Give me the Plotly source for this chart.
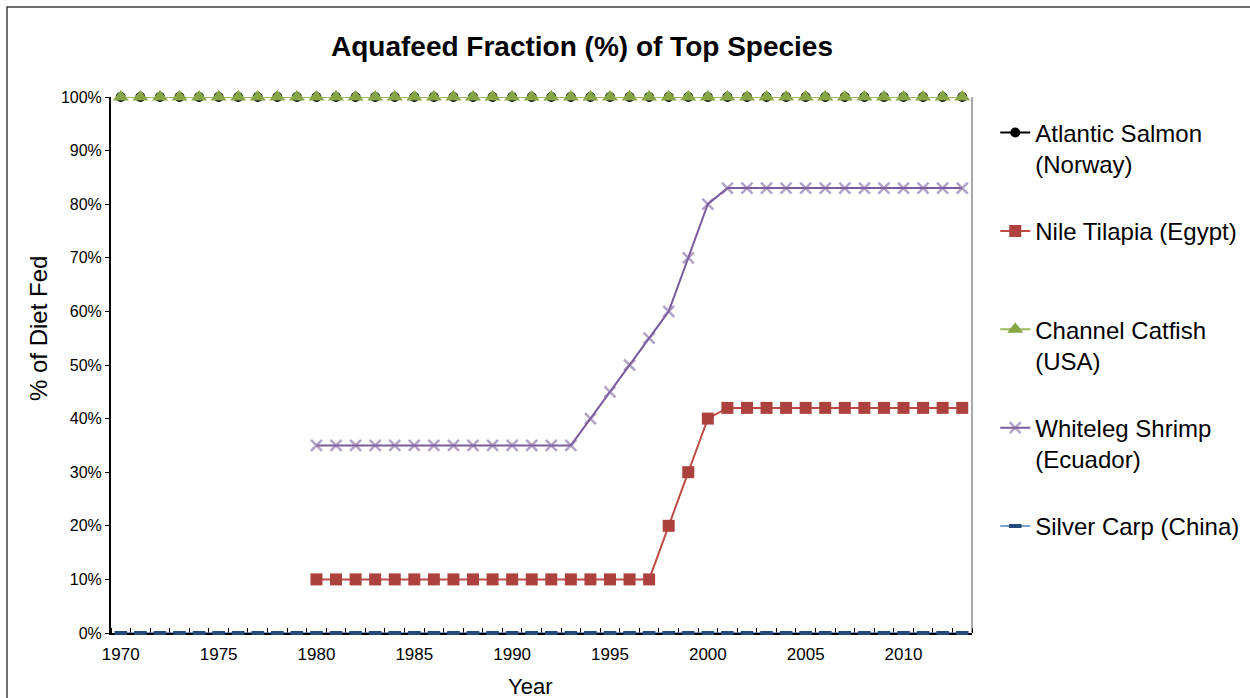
import plotly.graph_objects as go

# Years on the category axis
years = list(range(1970, 2014))

# Share of diet supplied by aquafeed, percent (None = no data that year)
atlantic_salmon = [100, 100, 100, 100, 100, 100, 100, 100, 100, 100,
                   100, 100, 100, 100, 100, 100, 100, 100, 100, 100,
                   100, 100, 100, 100, 100, 100, 100, 100, 100, 100,
                   100, 100, 100, 100, 100, 100, 100, 100, 100, 100,
                   100, 100, 100, 100]
nile_tilapia = [None, None, None, None, None, None, None, None, None, None,
                10, 10, 10, 10, 10, 10, 10, 10, 10, 10,
                10, 10, 10, 10, 10, 10, 10, 10, 20, 30,
                40, 42, 42, 42, 42, 42, 42, 42, 42, 42,
                42, 42, 42, 42]
channel_catfish = [100, 100, 100, 100, 100, 100, 100, 100, 100, 100,
                   100, 100, 100, 100, 100, 100, 100, 100, 100, 100,
                   100, 100, 100, 100, 100, 100, 100, 100, 100, 100,
                   100, 100, 100, 100, 100, 100, 100, 100, 100, 100,
                   100, 100, 100, 100]
whiteleg_shrimp = [None, None, None, None, None, None, None, None, None, None,
                   35, 35, 35, 35, 35, 35, 35, 35, 35, 35,
                   35, 35, 35, 35, 40, 45, 50, 55, 60, 70,
                   80, 83, 83, 83, 83, 83, 83, 83, 83, 83,
                   83, 83, 83, 83]
silver_carp = [0, 0, 0, 0, 0, 0, 0, 0, 0, 0,
               0, 0, 0, 0, 0, 0, 0, 0, 0, 0,
               0, 0, 0, 0, 0, 0, 0, 0, 0, 0,
               0, 0, 0, 0, 0, 0, 0, 0, 0, 0,
               0, 0, 0, 0]

x_tick_years = [1970, 1975, 1980, 1985, 1990, 1995, 2000, 2005, 2010]
x_tick_labels = ["1970", "1975", "1980", "1985", "1990", "1995", "2000", "2005", "2010"]
y_tick_values = [0, 10, 20, 30, 40, 50, 60, 70, 80, 90, 100]
y_tick_labels = ["0%", "10%", "20%", "30%", "40%", "50%", "60%", "70%", "80%", "90%", "100%"]

FONT = "Arial, 'Liberation Sans', sans-serif"

series = [
    dict(name="Atlantic Salmon<br>(Norway)", y=atlantic_salmon,
         line=dict(color="#000000", width=2),
         marker=dict(symbol="circle", size=10, color="#000000")),
    dict(name="Nile Tilapia (Egypt)<br> ", y=nile_tilapia,
         line=dict(color="#BE4B48", width=2),
         marker=dict(symbol="square", size=12, color="#AC413E")),
    dict(name="Channel Catfish<br>(USA)", y=channel_catfish,
         line=dict(color="#9BBB59", width=2),
         marker=dict(symbol="triangle-up", size=14, color="#86A646")),
    dict(name="Whiteleg Shrimp<br>(Ecuador)", y=whiteleg_shrimp,
         line=dict(color="#7A5C9E", width=2),
         marker=dict(symbol="x-thin", size=11,
                     line=dict(color="rgba(128,100,162,0.6)", width=2.5))),
    dict(name="Silver Carp (China)<br> ", y=silver_carp,
         line=dict(color="#4F81BD", width=1.5),
         marker=dict(symbol="line-ew", size=9,
                     line=dict(color="#24497A", width=4))),
]

fig = go.Figure()
for i, s in enumerate(series):
    fig.add_trace(go.Scatter(
        x=years, y=s["y"], name=s["name"], mode="lines+markers",
        line=s["line"], marker=s["marker"], cliponaxis=False,
        legendgroup=f"g{i}",
    ))

fig.update_layout(
    width=1250, height=698,
    margin=dict(l=111, r=278, t=97, b=65, autoexpand=False),
    paper_bgcolor="white", plot_bgcolor="white",
    font=dict(family=FONT, color="#000000"),
    title=dict(text="<b>Aquafeed Fraction (%) of Top Species</b>",
               font=dict(size=28, family=FONT, color="#000000"),
               x=582 / 1250, xanchor="center", xref="container",
               y=1 - 46 / 698, yanchor="middle", yref="container"),
    showlegend=True,
    legend=dict(x=1.027, xanchor="left", y=0.975, yanchor="top",
                font=dict(size=24, family=FONT, color="#000000"),
                traceorder="grouped", tracegroupgap=33, valign="top",
                bgcolor="rgba(0,0,0,0)"),
    xaxis=dict(range=[1969.5, 2013.5], tickmode="array", tickvals=x_tick_years,
               ticktext=x_tick_labels, ticks="", showgrid=False, zeroline=False,
               showline=True, linecolor="#000000", linewidth=2,
               tickfont=dict(size=17, family=FONT, color="#000000"),
               ticklabelstandoff=5, layer="below traces",
               minor=dict(ticks="inside", tick0=1969.5, dtick=1, ticklen=5,
                          tickcolor="#000000", tickwidth=1, showgrid=False)),
    yaxis=dict(range=[0, 100], tickmode="array", tickvals=y_tick_values,
               ticktext=y_tick_labels, ticks="outside", ticklen=4,
               tickcolor="#000000", tickwidth=1, showgrid=False, zeroline=False,
               showline=True, linecolor="#000000", linewidth=2,
               tickfont=dict(size=16, family=FONT, color="#000000"),
               layer="below traces"),
    shapes=[
        # right edge of the plot area
        dict(type="line", xref="paper", yref="paper", x0=1, x1=1, y0=0, y1=1,
             line=dict(color="#8C8C8C", width=1.5), layer="below"),
        # chart frame
        dict(type="rect", xref="paper", yref="paper",
             x0=(7 - 111) / 861, x1=(1262 - 111) / 861,
             y0=(633 - 712) / 536, y1=(633 - 7) / 536,
             line=dict(color="#404040", width=1.5), layer="below"),
    ],
    annotations=[
        dict(text="% of Diet Fed", xref="paper", yref="paper",
             x=(38 - 111) / 861, y=(633 - 329) / 536, textangle=-90,
             showarrow=False, font=dict(size=24, family=FONT, color="#000000"),
             xanchor="center", yanchor="middle"),
        dict(text="Year", xref="paper", yref="paper",
             x=(530 - 111) / 861, y=(633 - 686) / 536,
             showarrow=False, font=dict(size=22, family=FONT, color="#000000"),
             xanchor="center", yanchor="middle"),
    ],
)

fig.write_html("out.html")
